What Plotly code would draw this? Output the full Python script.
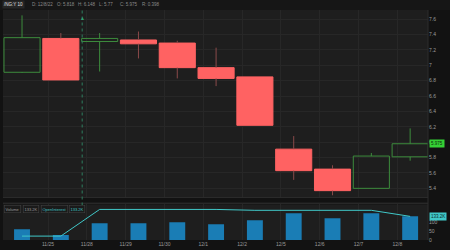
import plotly.graph_objects as go

# ---- data ----
idx = list(range(11))
opens  = [6.91, 7.35, 7.31, 7.33, 7.29, 6.97, 6.85, 5.91, 5.65, 5.40, 5.81]
highs  = [7.65, 7.42, 7.42, 7.44, 7.32, 7.23, 6.85, 6.08, 5.70, 5.86, 6.18]
lows   = [6.90, 6.81, 6.92, 7.09, 6.83, 6.73, 6.22, 5.51, 5.31, 5.40, 5.76]
closes = [7.36, 6.81, 7.35, 7.28, 6.97, 6.83, 6.22, 5.63, 5.37, 5.82, 5.98]
volume_k = [61, 28, 94, 94, 100, 89, 111, 150, 122, 150, 133]
open_interest_k = [22, 22, 172, 172, 172, 172, 167, 167, 167, 167, 133]
date_labels = ["11/25", "11/28", "11/29", "11/30", "12/1", "12/2", "12/5", "12/6", "12/7", "12/8"]
price_ticks = [5.4, 5.6, 5.8, 6.0, 6.2, 6.4, 6.6, 6.8, 7.0, 7.2, 7.4, 7.6]
vol_ticks = [0, 50, 100]
header_items = ["/NG:Y 10", "D: 12/8/22", "O: 5.818", "H: 6.148", "L: 5.77", "C: 5.975", "R: 0.398"]

GREEN = "#3d8c3d"
RED = "#ff6262"
RED_WICK = "#8a4a4a"
BLUE = "#1a7db5"
TEAL = "#40c8c8"
FONT = "Liberation Sans"

up = [c >= o for o, c in zip(opens, closes)]
body_base = [min(o, c) for o, c in zip(opens, closes)]
body_h = [abs(c - o) for o, c in zip(opens, closes)]
fill_cols = ["rgba(0,0,0,0)" if u else RED for u in up]
line_cols = [GREEN if u else RED for u in up]

fig = go.Figure()

# wicks (drawn from data, outside the body)
for want_up, col in [(True, GREEN), (False, RED_WICK)]:
    wx, wy = [], []
    for i in idx:
        if up[i] != want_up:
            continue
        top = max(opens[i], closes[i])
        bot = min(opens[i], closes[i])
        wx += [i, i, None, i, i, None]
        wy += [highs[i], top, None, bot, lows[i], None]
    fig.add_trace(go.Scatter(x=wx, y=wy, mode="lines", line=dict(color=col, width=1),
                             xaxis="x", yaxis="y", showlegend=False, hoverinfo="skip"))

# bodies
fig.add_trace(go.Bar(x=idx, y=body_h, base=body_base, width=0.93,
                     marker=dict(color=fill_cols, line=dict(color=line_cols, width=1)),
                     xaxis="x", yaxis="y", showlegend=False, hoverinfo="skip"))

fig.add_trace(go.Bar(x=idx, y=volume_k, width=0.41, marker=dict(color=BLUE, line=dict(width=0)),
                     xaxis="x2", yaxis="y2", showlegend=False))
fig.add_trace(go.Scatter(x=idx, y=open_interest_k, mode="lines", line=dict(color=TEAL, width=1),
                         xaxis="x2", yaxis="y2", showlegend=False))

xr = [-0.49, 10.46]
tickpos = [i + 0.67 for i in range(len(date_labels))]
ptext = [("%g" % v) for v in price_ticks]

fig.update_layout(
    width=450, height=250,
    margin=dict(l=3, r=22, t=10, b=7),
    paper_bgcolor="#121212", plot_bgcolor="#1e1e1e",
    barmode="overlay",
    font=dict(family=FONT, size=5, color="#9a9a9a"),
    xaxis=dict(domain=[0, 1], range=xr, anchor="y", showticklabels=False,
               tickvals=tickpos,
               showgrid=True, gridcolor="#272727", gridwidth=1, zeroline=False,
               showline=False),
    xaxis2=dict(domain=[0, 1], range=xr, anchor="y2", matches="x", tickvals=tickpos,
                ticktext=date_labels, showgrid=True, gridcolor="#272727",
                tickfont=dict(size=5, color="#9a9a9a"), ticklen=0, zeroline=False,
                showline=False),
    yaxis=dict(domain=[0.1845, 1], range=[5.28, 7.72], side="right", anchor="x",
               tickvals=price_ticks, ticktext=ptext, showgrid=True, gridcolor="#272727",
               zeroline=False, ticklen=0, tickfont=dict(size=5, color="#9a9a9a")),
    yaxis2=dict(domain=[0, 0.1545], range=[0, 200], side="right", anchor="x2",
                tickvals=vol_ticks, ticktext=["0", "50", "100"], showgrid=False,
                zeroline=False, ticklen=0, tickfont=dict(size=5, color="#9a9a9a")),
)

shapes = []
shapes.append(dict(type="rect", xref="paper", yref="paper", x0=-0.01, x1=1.06,
                   y0=1.0, y1=1.05, fillcolor="#161616", line=dict(width=0), layer="below"))
shapes.append(dict(type="line", xref="paper", yref="paper", x0=0, x1=1, y0=0.16, y1=0.16,
                   line=dict(color="#333333", width=1)))
shapes.append(dict(type="line", xref="paper", yref="paper", x0=0, x1=1, y0=0.1845, y1=0.1845,
                   line=dict(color="#2c2c2c", width=1)))
shapes.append(dict(type="line", xref="paper", yref="paper", x0=1, x1=1, y0=0, y1=1,
                   line=dict(color="#2c2c2c", width=1)))
shapes.append(dict(type="line", xref="x", yref="paper", x0=1.55, x1=1.55, y0=0.15, y1=1,
                   line=dict(color="#2f7f5f", width=1, dash="dot")))
fig.update_layout(shapes=shapes)

ann = []
hx = [2, 30, 55, 76, 97, 118, 140]
for i, (t, x) in enumerate(zip(header_items, hx)):
    ann.append(dict(text=t, xref="paper", yref="paper", x=(x - 3) / 425, y=1.005,
                    xanchor="left", yanchor="bottom", showarrow=False,
                    font=dict(size=4.5, color="#e0e0e0" if i == 0 else "#8a8a8a"),
                    bgcolor="#262626" if i == 0 else None, borderpad=1))
ann.append(dict(text="%.3f" % 5.975, xref="paper", yref="y", x=1.003, y=closes[-1],
                xanchor="left", yanchor="middle", showarrow=False,
                font=dict(size=4.5, color="#0a2a0a"), bgcolor="#35d035", borderpad=1))
ann.append(dict(text="133.2K", xref="paper", yref="y2", x=1.003, y=open_interest_k[-1],
                xanchor="left", yanchor="middle", showarrow=False,
                font=dict(size=4.5, color="#0a2a2a"), bgcolor=TEAL, borderpad=1))
leg = [("Volume", "#9a9a9a", 4), ("133.2K", "#9a9a9a", 23), ("OpenInterest", TEAL, 41), ("133.2K", TEAL, 69)]
for t, c, x in leg:
    ann.append(dict(text=t, xref="paper", yref="paper", x=(x - 3) / 425, y=0.152,
                    xanchor="left", yanchor="top", showarrow=False,
                    font=dict(size=4, color=c), bordercolor="#444444", borderwidth=0.5,
                    borderpad=1, bgcolor="#1a1a1a"))
ann.append(dict(text="▲", xref="x", yref="paper", x=1.55, y=0.985, showarrow=False,
                font=dict(size=5, color="#2f9f6f")))
fig.update_layout(annotations=ann)

fig.write_html("out.html")
